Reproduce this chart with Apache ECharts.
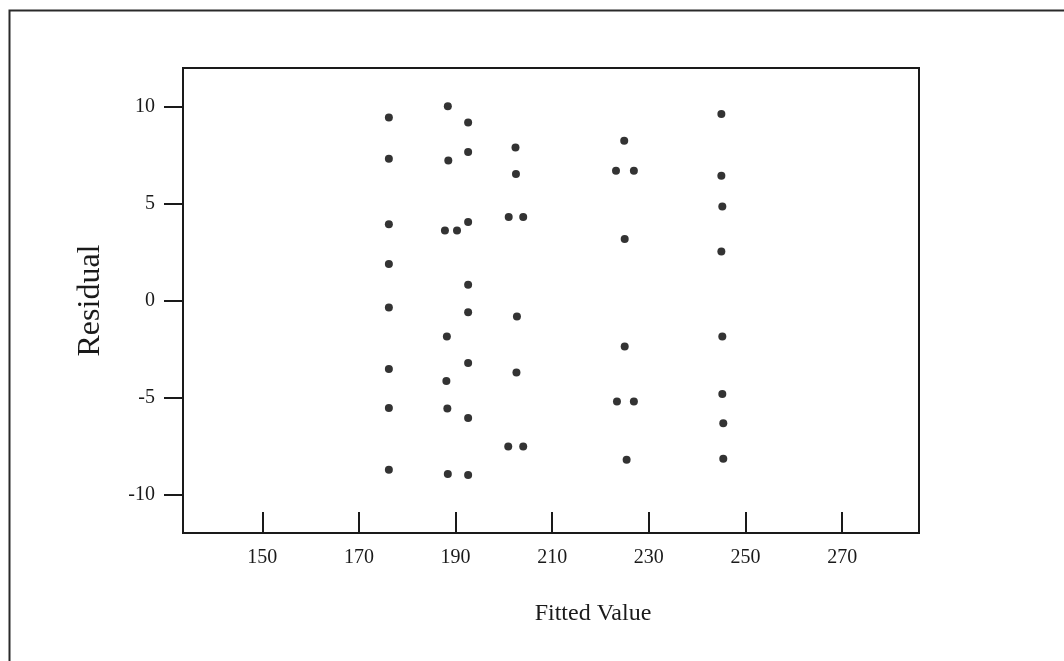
<!DOCTYPE html>
<html>
<head>
<meta charset="utf-8">
<script src="https://cdn.jsdelivr.net/npm/echarts@6/dist/echarts.min.js"></script>
<style>
html,body{margin:0;padding:0;background:#fff;}
#c{width:1064px;height:661px;}
</style>
</head>
<body>
<div id="c"></div>
<script>
// Data (Fitted Value, Residual)
const fittedValues = [
  176.2, 176.2, 176.2, 176.2, 176.2, 176.2, 176.2, 176.2,
  188.4, 188.5, 187.8, 190.3, 188.2, 188.1, 188.3, 188.4,
  192.6, 192.6, 192.6, 192.6, 192.6, 192.6, 192.6, 192.6,
  202.4, 202.5, 201.0, 204.0, 202.7, 202.6, 200.9, 204.0,
  224.9, 223.2, 226.9, 225.0, 225.0, 223.4, 226.9, 225.4,
  245.0, 245.0, 245.2, 245.0, 245.2, 245.2, 245.4, 245.4
];
const residuals = [
  9.45, 7.32, 3.94, 1.88, -0.36, -3.53, -5.55, -8.74,
  10.02, 7.23, 3.61, 3.61, -1.86, -4.15, -5.58, -8.96,
  9.19, 7.66, 4.05, 0.81, -0.60, -3.23, -6.07, -9.00,
  7.90, 6.53, 4.31, 4.31, -0.83, -3.72, -7.54, -7.54,
  8.25, 6.70, 6.70, 3.17, -2.37, -5.21, -5.21, -8.22,
  9.62, 6.44, 4.85, 2.53, -1.86, -4.82, -6.33, -8.17
];
const xTicks = [150, 170, 190, 210, 230, 250, 270];
const yTicks = [-10, -5, 0, 5, 10];
const xTitle = 'Fitted Value';
const yTitle = 'Residual';

const points = fittedValues.map((x, i) => [x, residuals[i]]);
const font = '"Liberation Serif", "DejaVu Serif", serif';

const chart = echarts.init(document.getElementById('c'), null, {renderer: 'canvas'});
chart.setOption({
  animation: false,
  backgroundColor: '#ffffff',
  grid: {
    left: 183, top: 68, right: 145, bottom: 128,
    show: true, borderColor: '#1a1a1a', borderWidth: 2, backgroundColor: 'transparent'
  },
  graphic: [{
    type: 'rect',
    shape: {x: 9.5, y: 10.5, width: 1200, height: 800},
    style: {fill: 'none', stroke: '#2a2a2a', lineWidth: 2},
    silent: true
  }],
  xAxis: {
    type: 'value', min: 133.6, max: 285.9,
    name: xTitle, nameLocation: 'middle', nameGap: 81,
    nameTextStyle: {fontFamily: font, fontSize: 24, color: '#1a1a1a', verticalAlign: 'middle', padding: [0, 0, 0, 84]},
    axisLine: {show: true, onZero: false, lineStyle: {color: '#1a1a1a', width: 2}},
    axisTick: {show: true, inside: true, length: 21, customValues: xTicks, lineStyle: {color: '#1a1a1a', width: 2}},
    axisLabel: {customValues: xTicks, fontFamily: font, fontSize: 20, color: '#1a1a1a', margin: 15},
    splitLine: {show: false}
  },
  yAxis: {
    type: 'value', min: -12, max: 12,
    name: yTitle, nameLocation: 'middle', nameGap: 92,
    nameTextStyle: {fontFamily: font, fontSize: 32, color: '#1a1a1a', verticalAlign: 'middle'},
    axisLine: {show: true, onZero: false, lineStyle: {color: '#1a1a1a', width: 2}},
    axisTick: {show: true, inside: false, length: 19, customValues: yTicks, lineStyle: {color: '#1a1a1a', width: 2}},
    axisLabel: {customValues: yTicks, fontFamily: font, fontSize: 20, color: '#1a1a1a', margin: 28},
    splitLine: {show: false}
  },
  series: [{
    type: 'scatter',
    data: points,
    symbol: 'circle',
    symbolSize: 8,
    itemStyle: {color: '#000000'}
  }]
});
</script>
</body>
</html>
